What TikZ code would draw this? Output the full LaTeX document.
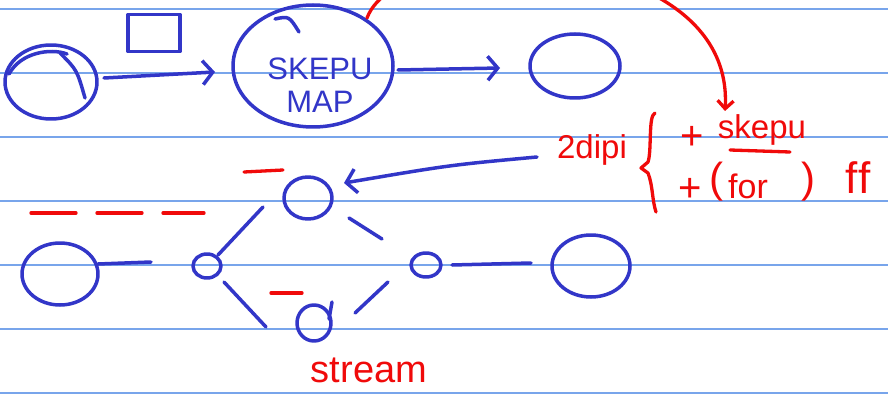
\documentclass[tikz,border=0pt]{standalone}
\usepackage{fontspec}
\setmainfont{Liberation Sans}
\usetikzlibrary{arrows.meta,shapes.geometric,calc}
\definecolor{ink}{RGB}{50,54,200}
\definecolor{redink}{RGB}{240,10,10}
\definecolor{ruleblue}{RGB}{120,165,235}
\begin{document}
\begin{tikzpicture}[x=1pt,y=-1pt,
  pen/.style={draw=ink,line width=3.5pt,line cap=round,line join=round},
  rpen/.style={draw=redink,line width=3.3pt,line cap=round,line join=round},
  blob/.style={ellipse,pen,inner sep=0pt},
  bluetext/.style={text=ink,inner sep=0pt},
  redtext/.style={text=redink,inner sep=0pt},
  barb/.style={-{Straight Barb[length=10pt,width=24pt,line width=3.5pt]}},
  rbarb/.style={-{Straight Barb[length=8pt,width=16pt,line width=3.3pt]}}]
\useasboundingbox (0,0) rectangle (888,401);
\clip (0,0) rectangle (888,401);
\fill[white] (0,0) rectangle (888,401);
\foreach \yy in {9,73,...,393} \draw[ruleblue,line width=1.3pt] (0,\yy) -- (888,\yy);

% top row
\node[blob,minimum width=92pt,minimum height=74pt] (a) at (51,82) {};
\draw[pen] ($(a)+(9,-29)$) .. controls ($(a)+(26,-12)$) .. ($(a)+(34,16)$);
\draw[pen] ($(a)+(-42,-8)$) .. controls ($(a)+(-30,-30)$) and ($(a)+(0,-34)$) .. ($(a)+(16,-28)$);
\node[pen,minimum width=52pt,minimum height=37pt,inner sep=0pt] (box) at (154,33) {};
\node[blob,minimum width=160pt,minimum height=122pt] (map) at (313,66) {};
\draw[pen] ($(map)+(-38,-47)$) .. controls ($(map)+(-24,-50)$) .. ($(map)+(-14,-34)$);
\node[bluetext,font=\fontsize{31}{31}\selectfont,align=center] (maplabel) at (320,85) {SKEPU\\[2pt]MAP};
\node[blob,minimum width=90pt,minimum height=64pt] (c) at (575,66) {};
\draw[pen,barb] ($(a)+(53,-4)$) -- ($(map)+(-98,6)$);
\draw[pen,barb] ($(map)+(85,4)$) -- ($(c)+(-75,2)$);

% red notes
\node[redtext,font=\fontsize{33}{33}\selectfont] (dip) at (592,150) {2dipi};
\node[redtext,font=\fontsize{40}{40}\selectfont] (plus1) at (692,138) {+};
\node[redtext,font=\fontsize{33}{33}\selectfont] (skepu) at (762,130) {skepu};
\draw[rpen] ($(skepu)+(-32,20)$) -- ($(skepu)+(28,22)$);
\node[redtext,font=\fontsize{40}{40}\selectfont] (plus2) at (690,190) {+};
\node[redtext,font=\fontsize{42}{42}\selectfont] (lpar) at (716,182) {(};
\node[redtext,font=\fontsize{34}{34}\selectfont] (for) at (748,186) {for};
\node[redtext,font=\fontsize{42}{42}\selectfont] (rpar) at (808,182) {)};
\node[redtext,font=\fontsize{44}{44}\selectfont,anchor=west] (ff) at (845,178) {f\kern1pt f};
\draw[rpen] (655,113) .. controls (648,116) and (652,150) .. (648,162) -- (641,168) -- (648,173) .. controls (653,186) and (652,200) .. (656,212);
\coordinate (redtip) at (725,111);
\draw[rpen,rbarb] ($(map)+(54,-48)$) .. controls (400,-70) and (735,-60) .. (redtip);

% bottom graph
\node[blob,minimum width=76pt,minimum height=62pt] (b1) at (60,274) {};
\node[blob,minimum width=28pt,minimum height=24pt] (s1) at (207,266) {};
\node[blob,minimum width=48pt,minimum height=42pt] (top) at (308,198) {};
\node[blob,minimum width=34pt,minimum height=36pt] (bot) at (314,323) {};
\draw[pen] ($(bot)+(15,-4)$) -- ($(bot)+(18,-21)$);
\node[blob,minimum width=30pt,minimum height=24pt] (s2) at (426,265) {};
\node[blob,minimum width=78pt,minimum height=62pt] (b2) at (591,266) {};

\draw[pen] ($(b1)+(38,-10)$) -- ($(s1)+(-56,-4)$);
\draw[pen] ($(s1)+(11,-11)$) -- ($(top)+(-45,9)$);
\draw[pen] ($(top)+(41,20)$) -- ($(s2)+(-44,-26)$);
\draw[pen] ($(s1)+(17,16)$) -- ($(bot)+(-48,4)$);
\draw[pen] ($(s2)+(-38,17)$) -- ($(bot)+(41,-10)$);
\draw[pen] ($(s2)+(26,0)$) -- ($(b2)+(-60,-3)$);
\draw[pen,barb] ($(dip)+(-55,7)$) .. controls (450,165) .. ($(top)+(36,-15)$);

\draw[rpen,dash pattern=on 45pt off 21pt] (31,213) -- (204,213);
\draw[rpen] (244,172) -- (283,170);
\draw[rpen] (271,293) -- (302,293);
\node[redtext,font=\fontsize{38}{38}\selectfont] (stream) at (369,370) {stream};
\end{tikzpicture}
\end{document}
